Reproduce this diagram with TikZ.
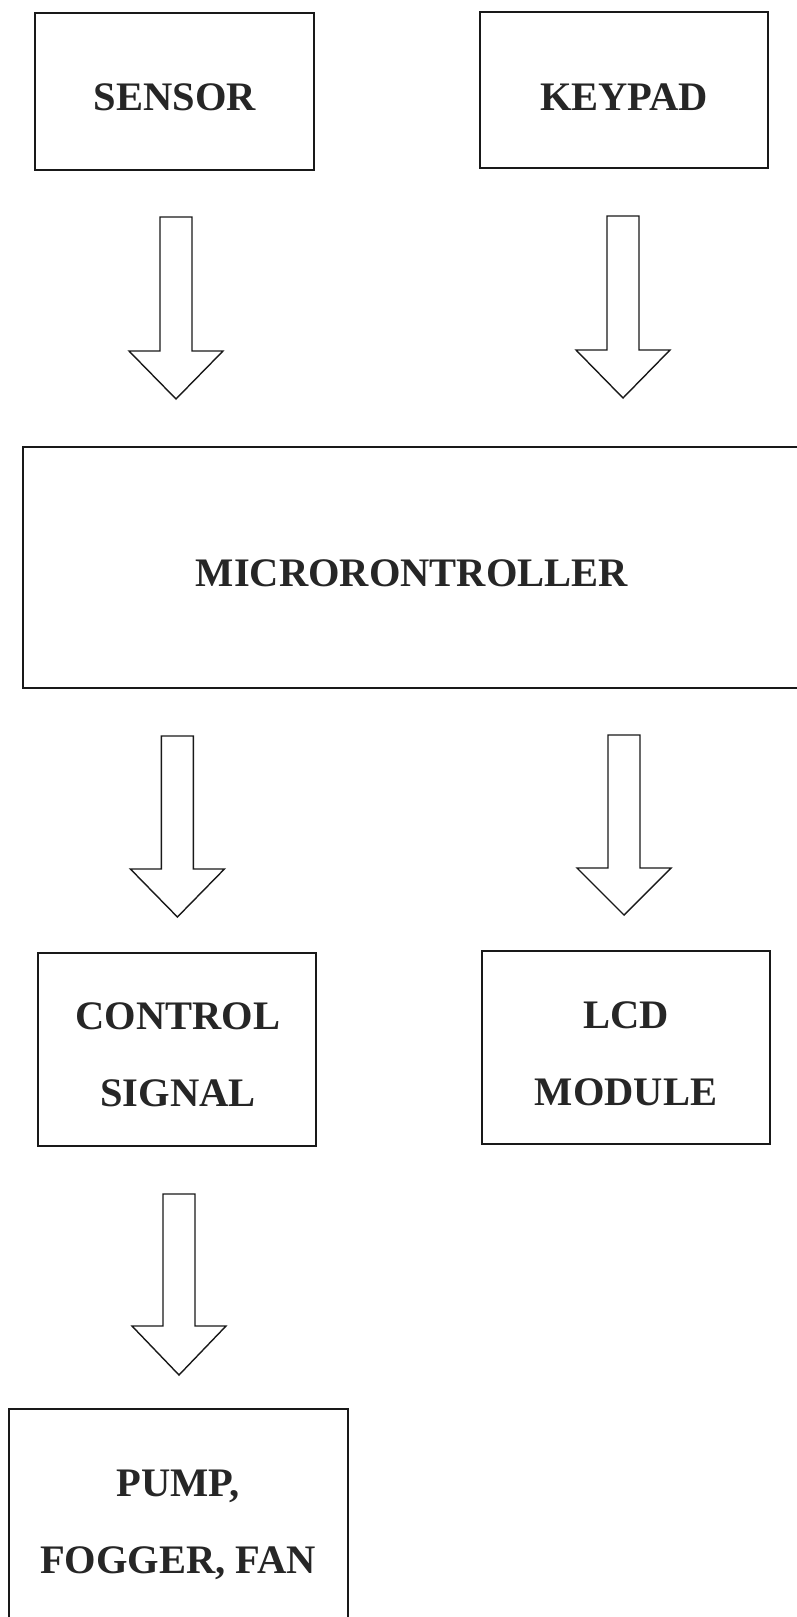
\documentclass[tikz,border=0pt]{standalone}
\usepackage{fontspec}
\setmainfont{Liberation Serif}
\begin{document}
\begin{tikzpicture}[x=1pt,y=-1pt,
  box/.style={draw=black!90, line width=2.2pt, rectangle, inner sep=0pt, outer sep=0pt},
  lbl/.style={anchor=base, inner sep=0pt, text=black!85, font=\fontsize{40.5}{48}\selectfont\bfseries},
  blockarrow/.style={draw=black!90, line width=1.4pt, line join=miter, fill=white}]
\useasboundingbox (0,0) rectangle (797,1617);
\clip (0,0) rectangle (797,1617);
\fill[white] (0,0) rectangle (797,1617);
\newcommand\blkarrow[5]{% center x, top, head base, tip, name
  \coordinate (#5) at (#1,#4);
  \draw[blockarrow] ({#1-16},#2) -- ({#1+16},#2) -- ({#1+16},#3) -- ({#1+47},#3)
     -- (#5) -- ({#1-47},#3) -- ({#1-16},#3) -- cycle;}
% boxes
\node[box, minimum width=279pt, minimum height=157pt] (sensor) at (174.2,91.5) {};
\node[box, minimum width=288pt, minimum height=156pt] (keypad) at (624,90) {};
\node[box, minimum width=792pt, minimum height=241pt] (micro) at (419,567.5) {};
\node[box, minimum width=278pt, minimum height=193pt] (ctrl) at (177,1049.5) {};
\node[box, minimum width=288pt, minimum height=193pt] (lcd) at (626,1047.5) {};
\node[box, minimum width=339pt, minimum height=231pt] (pump) at (178.5,1524.5) {};
% labels
\node[lbl] (tsensor) at (175,110.7) {SENSOR};
\node[lbl] (tkeypad) at (624,110) {KEYPAD};
\node[lbl] (tmicro) at (412,586.7) {MICRORONTROLLER};
\node[lbl] (tctrl1) at (178,1029.3) {CONTROL};
\node[lbl] (tctrl2) at (178,1106.7) {SIGNAL};
\node[lbl] (tlcd1) at (626,1028.3) {LCD};
\node[lbl] (tlcd2) at (626,1105) {MODULE};
\node[lbl] (tpump1) at (178,1496.7) {PUMP,};
\node[lbl] (tpump2) at (178,1573.3) {FOGGER, FAN};
% block arrows
\blkarrow{176}{217}{351}{399}{a1}
\blkarrow{623}{216}{350}{398}{a2}
\blkarrow{177.4}{736}{869}{917}{a3}
\blkarrow{624}{735}{868}{915}{a4}
\blkarrow{179}{1194}{1326}{1375}{a5}
\end{tikzpicture}
\end{document}
